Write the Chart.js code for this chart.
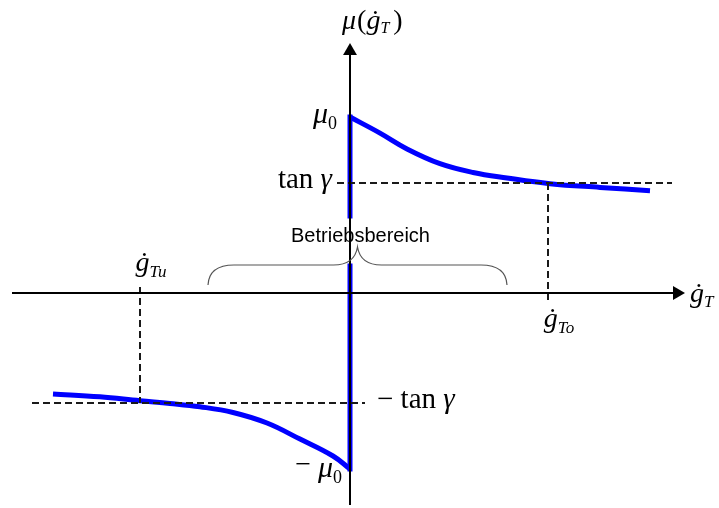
<!DOCTYPE html>
<html>
<head>
<meta charset="utf-8">
<script src="https://cdn.jsdelivr.net/npm/chart.js@4"></script>
<style>
html, body { margin: 0; padding: 0; background: #fff; }
#wrap { width: 719px; height: 508px; position: relative; }
</style>
</head>
<body>
<div id="wrap"><canvas id="muChart"></canvas></div>
<script>
// friction law parameters
const mu0 = 0.8;
const tanGamma = 0.5;
const gTu = -2.10;
const gTo = 1.98;
const operatingRange = [-1.42, 1.57];
// gap in the sticking line where the brace label sits
const stickGap = [0.123, 0.35];

// sliding branch for positive slip velocity
const gPos = [0, 0.30, 0.57, 0.90, 1.23, 1.57, 2.00, 2.50, 3.00];
const muPos = [0.80, 0.727, 0.655, 0.588, 0.548, 0.523, 0.497, 0.480, 0.465];
// sliding branch for negative slip velocity
const gNeg = [-2.97, -2.50, -2.10, -1.80, -1.50, -1.17, -0.83, -0.50, -0.17, 0];
const muNeg = [-0.459, -0.472, -0.490, -0.502, -0.517, -0.543, -0.591, -0.664, -0.741, -0.80];

// axis extents
const xAxisRange = [-3.38, 3.25];
const yAxisRange = [-0.964, 1.105];

const pts = (xs, ys) => xs.map((x, i) => ({ x: x, y: ys[i] }));

const BLUE = '#0000ff';
const DASH = '#1a1a1a';

function line(data, color, width, dash) {
  return {
    data: data, showLine: true, borderColor: color, borderWidth: width,
    borderDash: dash || [], pointRadius: 0, borderCapStyle: 'butt', fill: false
  };
}

const datasets = [
  line([{ x: xAxisRange[0], y: 0 }, { x: xAxisRange[1], y: 0 }], '#000', 2),
  line([{ x: 0, y: yAxisRange[0] }, { x: 0, y: yAxisRange[1] }], '#000', 2),
  // arrow heads
  { data: [{ x: xAxisRange[1] + 0.02, y: 0 }], pointStyle: 'triangle', rotation: 90, pointRadius: 8,
    backgroundColor: '#000', borderColor: '#000', borderWidth: 0, showLine: false },
  { data: [{ x: 0, y: yAxisRange[1] - 0.005 }], pointStyle: 'triangle', rotation: 0, pointRadius: 8,
    backgroundColor: '#000', borderColor: '#000', borderWidth: 0, showLine: false },
  // asymptote levels and limit velocities
  line([{ x: -0.13, y: tanGamma }, { x: 3.22, y: tanGamma }], DASH, 2, [7, 4]),
  line([{ x: -3.18, y: -tanGamma }, { x: 0.15, y: -tanGamma }], DASH, 2, [7, 4]),
  line([{ x: gTo, y: tanGamma }, { x: gTo, y: -0.032 }], DASH, 2, [7, 4]),
  line([{ x: gTu, y: 0.027 }, { x: gTu, y: -tanGamma }], DASH, 2, [7, 4]),
  // sticking (vertical) parts
  Object.assign(line([{ x: 0, y: stickGap[1] }, { x: 0, y: mu0 }], BLUE, 5), { borderCapStyle: 'square' }),
  Object.assign(line([{ x: 0, y: stickGap[0] }, { x: 0, y: -mu0 }], BLUE, 5), { borderCapStyle: 'square' }),
  // sliding parts
  Object.assign(line(pts(gPos, muPos), BLUE, 5), { tension: 0.4 }),
  Object.assign(line(pts(gNeg, muNeg), BLUE, 5), { tension: 0.4 })
];

// math-style text made of several runs
function drawMath(ctx, x, y, parts, align) {
  const fontOf = p => (p.it ? 'italic ' : '') + p.size + 'px "Liberation Serif", "Times New Roman", serif';
  let w = 0;
  parts.forEach(p => { ctx.font = fontOf(p); w += ctx.measureText(p.t).width + (p.gap || 0); });
  let cx = align === 'right' ? x - w : align === 'center' ? x - w / 2 : x;
  parts.forEach(p => {
    ctx.font = fontOf(p);
    ctx.fillText(p.t, cx, y + (p.dy || 0));
    cx += ctx.measureText(p.t).width + (p.gap || 0);
  });
}

const annotations = {
  id: 'annotations',
  afterDatasetsDraw(chart) {
    const ctx = chart.ctx;
    const xs = chart.scales.x, ys = chart.scales.y;
    const x0 = xs.getPixelForValue(0), y0 = ys.getPixelForValue(0);
    ctx.save();
    ctx.fillStyle = '#000';
    ctx.textBaseline = 'alphabetic';
    ctx.textAlign = 'left';

    // curly brace over the operating range
    const xl = xs.getPixelForValue(operatingRange[0]);
    const xr = xs.getPixelForValue(operatingRange[1]);
    const xm = (xl + xr) / 2;
    const yEnd = y0 - 8, yLine = y0 - 28, yTip = y0 - 46;
    ctx.strokeStyle = '#555';
    ctx.lineWidth = 1.2;
    ctx.beginPath();
    ctx.moveTo(xl, yEnd);
    ctx.quadraticCurveTo(xl + 1, yLine, xl + 26, yLine);
    ctx.lineTo(xm - 24, yLine);
    ctx.quadraticCurveTo(xm - 3, yLine, xm, yTip);
    ctx.quadraticCurveTo(xm + 3, yLine, xm + 24, yLine);
    ctx.lineTo(xr - 26, yLine);
    ctx.quadraticCurveTo(xr - 1, yLine, xr, yEnd);
    ctx.stroke();

    ctx.font = '20px "Liberation Sans", Arial, sans-serif';
    ctx.textAlign = 'center';
    ctx.fillText('Betriebsbereich', xm + 3, yTip - 5);
    ctx.textAlign = 'left';

    // axis titles
    drawMath(ctx, x0 - 8, ys.getPixelForValue(yAxisRange[1]) - 21, [
      { t: 'μ', size: 28, it: true, gap: 1 },
      { t: '(', size: 28 },
      { t: 'ġ', size: 28, it: true },
      { t: 'T', size: 16, it: true, dy: 4, gap: 4 },
      { t: ')', size: 28 }
    ], 'left');
    drawMath(ctx, xs.getPixelForValue(xAxisRange[1]) + 15, y0 + 9, [
      { t: 'ġ', size: 28, it: true },
      { t: 'T', size: 17, it: true, dy: 5 }
    ], 'left');

    // level labels
    drawMath(ctx, x0 - 13, ys.getPixelForValue(mu0) + 6, [
      { t: 'μ', size: 30, it: true },
      { t: '0', size: 18, dy: 6 }
    ], 'right');
    drawMath(ctx, x0 - 18, ys.getPixelForValue(tanGamma) + 5, [
      { t: 'tan ', size: 29 },
      { t: 'γ', size: 29, it: true }
    ], 'right');
    drawMath(ctx, x0 + 27, ys.getPixelForValue(-tanGamma) + 5, [
      { t: '− tan ', size: 29 },
      { t: 'γ', size: 29, it: true }
    ], 'left');
    drawMath(ctx, x0 - 8, ys.getPixelForValue(-mu0) + 8, [
      { t: '− ', size: 28, dy: -4 },
      { t: 'μ', size: 30, it: true },
      { t: '0', size: 18, dy: 6 }
    ], 'right');

    // limit velocities
    drawMath(ctx, xs.getPixelForValue(gTu) + 11, y0 - 22, [
      { t: 'ġ', size: 28, it: true },
      { t: 'Tu', size: 17, it: true, dy: 6 }
    ], 'center');
    drawMath(ctx, xs.getPixelForValue(gTo) + 11, y0 + 34, [
      { t: 'ġ', size: 28, it: true },
      { t: 'To', size: 17, it: true, dy: 6 }
    ], 'center');
    ctx.restore();
  }
};

new Chart(document.getElementById('muChart').getContext('2d'), {
  type: 'scatter',
  data: { datasets: datasets },
  options: {
    responsive: true,
    maintainAspectRatio: false,
    animation: false,
    layout: { padding: 0, autoPadding: false },
    plugins: { legend: { display: false }, tooltip: { enabled: false } },
    scales: {
      x: { type: 'linear', display: false, min: -3.5, max: 3.69 },
      y: { type: 'linear', display: false, min: -215 / 220, max: 293 / 220 }
    }
  },
  plugins: [annotations]
});
</script>
</body>
</html>
